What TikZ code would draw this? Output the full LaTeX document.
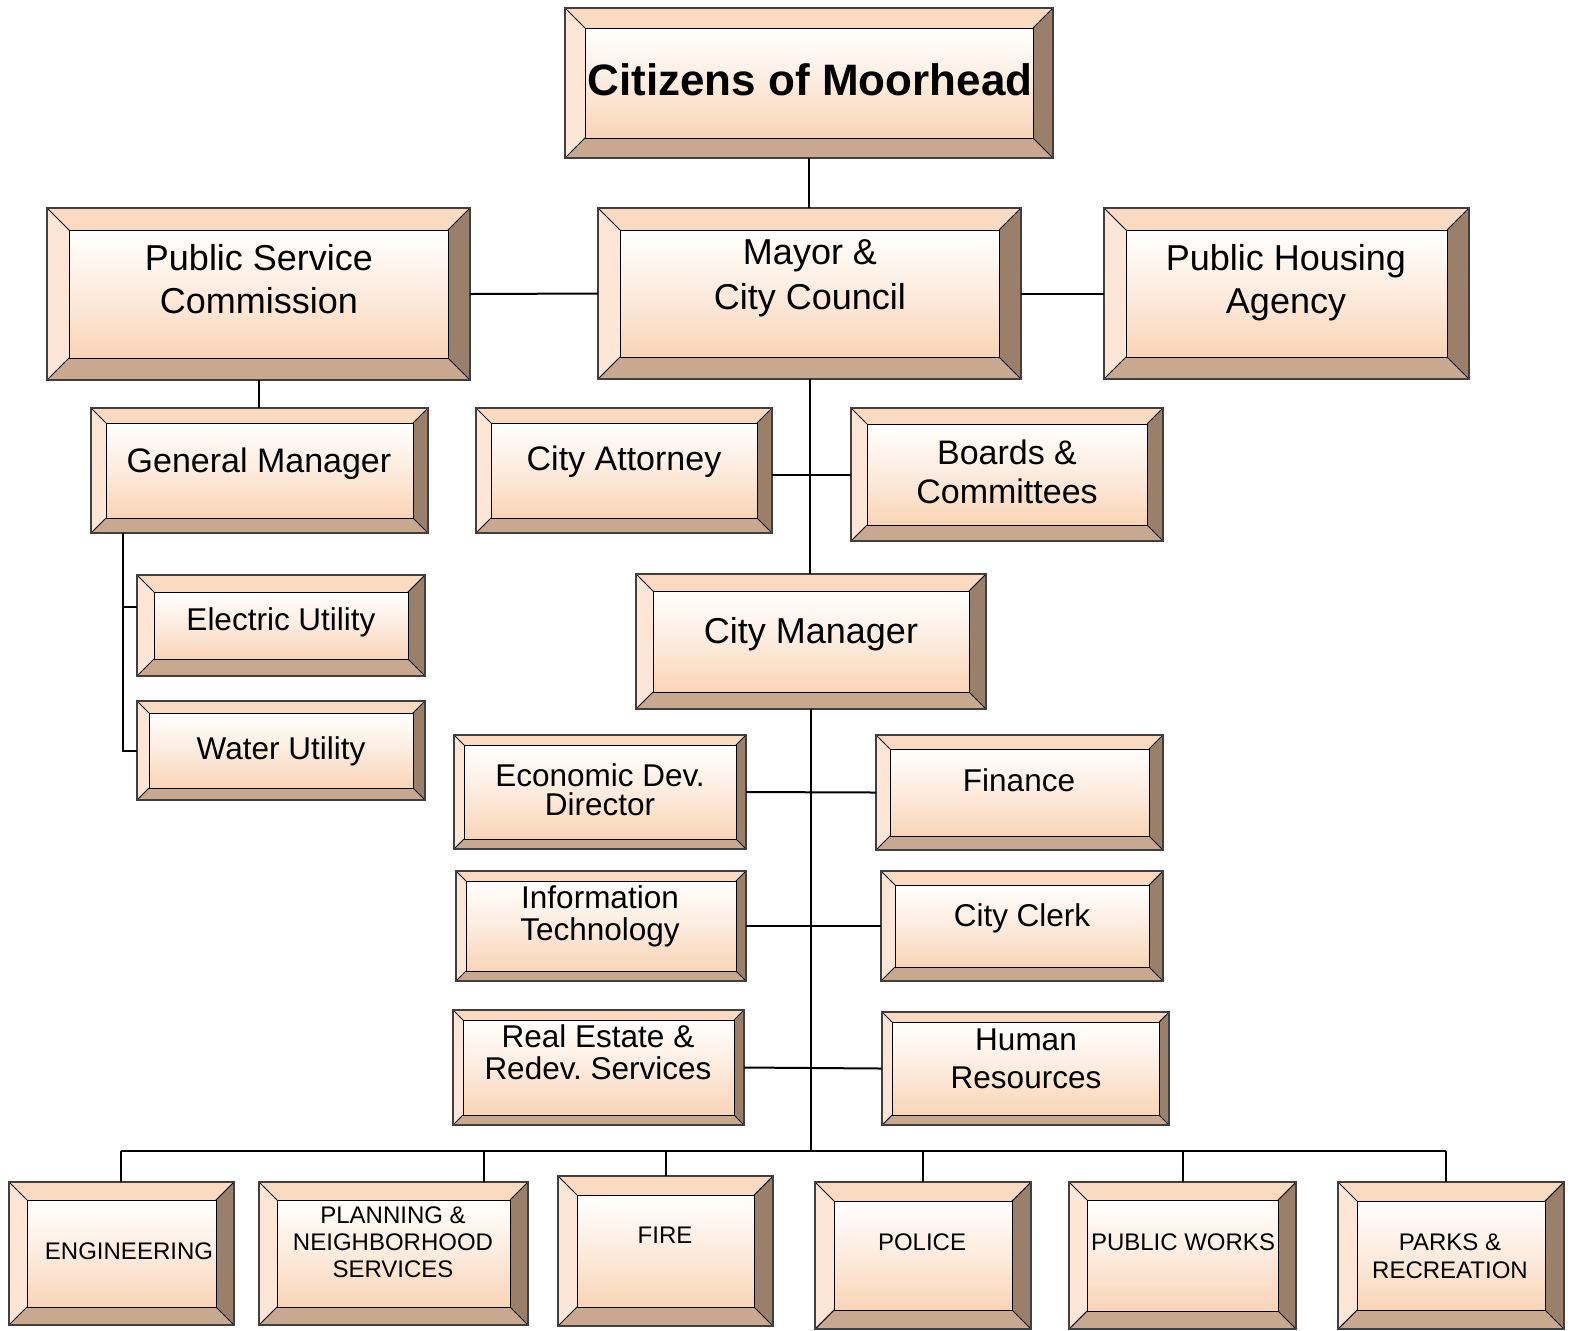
\documentclass[tikz,border=0pt]{standalone}
\usepackage{fontspec}
\setmainfont{Liberation Sans}
\frenchspacing
\definecolor{bvtop}{HTML}{FADAC0}
\definecolor{bvleft}{HTML}{FEE6D6}
\definecolor{bvbot}{HTML}{C8A88E}
\definecolor{bvright}{HTML}{9A7F6B}
\definecolor{facetop}{HTML}{FFFFFF}
\definecolor{facebot}{HTML}{F9D4B6}
\tikzset{
  bvline/.style={draw=black, line width=0.5pt},
  bvouter/.style={draw=black!75, line width=0.6pt},
  conn/.style={draw=black, line width=1pt},
  bigtxt/.style={inner sep=0pt, align=center, font=\fontsize{18}{21.5}\selectfont},
  medtxt/.style={inner sep=0pt, align=center, font=\fontsize{17}{20}\selectfont},
  smltxt/.style={inner sep=0pt, align=center, font=\fontsize{15.75}{15.5}\selectfont},
  bottxt/.style={inner sep=0pt, align=center, font=\fontsize{12}{13.5}\selectfont},
}
\newcommand\bevbox[6]{%
 \fill[bvtop] (#2,#3) -- (#4,#3) -- ({#4-#6},{#3+#6}) -- ({#2+#6},{#3+#6}) -- cycle;
 \fill[bvleft] (#2,#3) -- ({#2+#6},{#3+#6}) -- ({#2+#6},{#5-#6}) -- (#2,#5) -- cycle;
 \fill[bvbot] (#2,#5) -- ({#2+#6},{#5-#6}) -- ({#4-#6},{#5-#6}) -- (#4,#5) -- cycle;
 \fill[bvright] (#4,#3) -- (#4,#5) -- ({#4-#6},{#5-#6}) -- ({#4-#6},{#3+#6}) -- cycle;
 \shade[top color=facetop, bottom color=facebot, middle color=facebot!45!white] ({#2+#6},{#3+#6}) rectangle ({#4-#6},{#5-#6});
 \draw[bvline] ({#2+#6},{#3+#6}) rectangle ({#4-#6},{#5-#6});
 \draw[bvline] (#2,#3) -- ({#2+#6},{#3+#6}) (#4,#3) -- ({#4-#6},{#3+#6}) (#2,#5) -- ({#2+#6},{#5-#6}) (#4,#5) -- ({#4-#6},{#5-#6});
 \draw[bvouter] (#2,#3) rectangle (#4,#5);
 \node[inner sep=0pt, outer sep=0pt, minimum width={(#4-#2)*0.5pt}, minimum height={(#5-#3)*0.5pt}] (#1) at ({(#2+#4)/2},{(#3+#5)/2}) {};
}
\begin{document}
\begin{tikzpicture}[x=0.5pt, y=-0.5pt]
\useasboundingbox[fill=white] (0,0) rectangle (1577,1330);
% boxes
\bevbox{cit}{565}{8}{1053}{158}{20}
\bevbox{psc}{47}{208}{470}{380}{22}
\bevbox{mayor}{598}{208}{1021}{379}{22}
\bevbox{pha}{1104}{208}{1469}{379}{22}
\bevbox{gm}{91}{408}{428}{533}{15}
\bevbox{att}{476}{408}{772}{533}{15}
\bevbox{boards}{851}{408}{1163}{541}{16}
\bevbox{elec}{137}{575}{425}{676}{17}
\bevbox{water}{137}{701}{425}{800}{12}
\bevbox{cm}{636}{574}{986}{709}{17}
\bevbox{econ}{454}{735}{746}{849}{10}
\bevbox{fin}{876}{735}{1163}{850}{14}
\bevbox{it}{456}{871}{746}{981}{10}
\bevbox{clerk}{881}{871}{1163}{981}{14}
\bevbox{re}{453}{1010}{744}{1125}{10}
\bevbox{hr}{882}{1012}{1169}{1125}{10}
\bevbox{eng}{9}{1182}{234}{1325}{18}
\bevbox{plan}{259}{1182}{528}{1325}{18}
\bevbox{fire}{558}{1176}{773}{1326}{19}
\bevbox{police}{815}{1182}{1031}{1329}{19}
\bevbox{pw}{1069}{1182}{1296}{1329}{18}
\bevbox{parks}{1338}{1182}{1564}{1329}{19}
% texts
\node[inner sep=0pt, font=\fontsize{22}{26}\selectfont\bfseries] (cit-t) at (810,80) {Citizens of Moorhead};
\node[bigtxt] (psc-t) at (259,279) {Public Service\\Commission};
\node[bigtxt, font=\fontsize{18}{22.5}\selectfont] (mayor-t) at (810,278) {Mayor \&\\City Council};
\node[bigtxt] (pha-t) at (1286,283) {Public Housing\\Agency};
\node[medtxt] (gm-t) at (259,464) {General Manager};
\node[medtxt] (att-t) at (624,462) {City Attorney};
\node[medtxt, font=\fontsize{17}{19.5}\selectfont] (boards-t) at (1007,472) {Boards \&\\Committees};
\node[smltxt] (elec-t) at (281,622) {Electric Utility};
\node[smltxt] (water-t) at (281,751) {Water Utility};
\node[bigtxt] (cm-t) at (811,634) {City Manager};
\node[smltxt, font=\fontsize{15.75}{14.5}\selectfont] (econ-t) at (600,790) {Economic Dev.\\Director};
\node[smltxt] (fin-t) at (1019,780) {Finance};
\node[smltxt, font=\fontsize{15.75}{16}\selectfont] (it-t) at (600,916) {Information\\Technology};
\node[smltxt] (clerk-t) at (1022,918) {City Clerk};
\node[smltxt, font=\fontsize{15.75}{16}\selectfont] (re-t) at (598,1052) {Real Estate \&\\Redev. Services};
\node[smltxt, font=\fontsize{15.75}{19}\selectfont] (hr-t) at (1026,1059) {Human\\Resources};
\node[bottxt] (eng-t) at (129,1251) {ENGINEERING};
\node[bottxt] (plan-t) at (393,1242) {PLANNING \&\\NEIGHBORHOOD\\SERVICES};
\node[bottxt] (fire-t) at (665,1235) {FIRE};
\node[bottxt] (police-t) at (922,1242) {POLICE};
\node[bottxt] (pw-t) at (1183,1242) {PUBLIC WORKS};
\node[bottxt, font=\fontsize{12}{14}\selectfont] (parks-t) at (1450,1256) {PARKS \&\\RECREATION};
% connectors
\draw[conn] (cit.south) -- (cit.south |- mayor.north);
\draw[conn] (psc.east) -- (mayor.west);
\draw[conn] (mayor.east) -- (pha.west);
\draw[conn] (psc.south) -- (psc.south |- gm.north);
\draw[conn] (mayor.south) -- (mayor.south |- cm.north);
\draw[conn] (att.east |- boards.west) -- (boards.west);
\coordinate (gmtap) at (123,533);
\coordinate (etap) at (137,607);
\draw[conn] (gmtap) |- (water.west);
\draw[conn] (gmtap |- etap) -- (etap);
\coordinate (busL) at (121,1151);
\coordinate (busR) at (1446,1151);
\coordinate (pdrop) at (484,1151);
\draw[conn] (cm.south) -- (cm.south |- busL);
\draw[conn] (econ.east) -- (fin.west);
\draw[conn] (it.east) -- (clerk.west);
\draw[conn] (re.east) -- (hr.west);
\draw[conn] (busL) -- (busR);
\draw[conn] (busL) -- (busL |- eng.north);
\draw[conn] (pdrop) -- (pdrop |- plan.north);
\draw[conn] (fire.north |- busL) -- (fire.north);
\draw[conn] (police.north |- busL) -- (police.north);
\draw[conn] (pw.north |- busL) -- (pw.north);
\draw[conn] (busR) -- (busR |- parks.north);
\end{tikzpicture}
\end{document}
